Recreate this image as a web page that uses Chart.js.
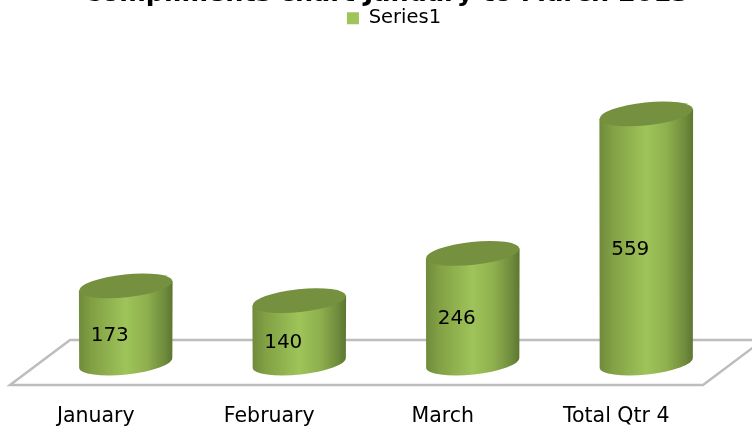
<!DOCTYPE html>
<html><head><meta charset="utf-8">
<style>html,body{margin:0;padding:0;background:#fff}#w{width:752px;height:427px;overflow:hidden}canvas{display:block}</style>
<script src="https://cdn.jsdelivr.net/npm/chart.js@4"></script></head>
<body><div id="w"><canvas id="c" width="752" height="427"></canvas></div>
<script>
const categories = ["January","February","March","Total Qtr 4"];
const seriesValues = [173,140,246,559];
const seriesName = "Series1";
const titleText = "Compliments chart January to March 2013";

const cylinders = {
  id:'cylinders',
  beforeDraw(chart){ chart.legend.left+=8; chart.legend.right+=8; },
  beforeDatasetsDraw(chart){
    const {ctx,chartArea:a,scales:{y}} = chart, b=y.getPixelForValue(0);
    ctx.save();
    ctx.strokeStyle='#bdbdbd';ctx.lineWidth=2.5;ctx.lineJoin='miter';
    ctx.beginPath();
    ctx.moveTo(a.right+30,b-23);ctx.lineTo(a.left+31,b-23);ctx.lineTo(a.left-29,b+22);ctx.lineTo(a.right-30,b+22);ctx.lineTo(a.right+30,b-23);
    ctx.stroke();ctx.restore();
  },
  afterDatasetsDraw(chart){
    const {ctx}=chart, meta=chart.getDatasetMeta(0);
    const tilt=-6*Math.PI/180;
    meta.data.forEach((bar,i)=>{
      const cx=bar.x, top=bar.y, base=bar.base, rx=bar.width/2, ry=11.5;
      const dy=rx*Math.sin(tilt);
      const g=ctx.createLinearGradient(cx-rx,0,cx+rx,0);
      g.addColorStop(0,'#6f8b3c');g.addColorStop(0.14,'#82a044');g.addColorStop(0.5,'#9fc45a');
      g.addColorStop(0.72,'#8fb04e');g.addColorStop(0.92,'#6e8a3c');g.addColorStop(1,'#5d7630');
      ctx.save();
      ctx.fillStyle=g;
      ctx.beginPath();
      ctx.ellipse(cx,base,rx,ry,tilt,0,Math.PI);
      ctx.lineTo(cx-rx,top-dy);
      ctx.lineTo(cx+rx,top+dy);
      ctx.closePath();ctx.fill();
      ctx.fillStyle='#75903f';
      ctx.beginPath();ctx.ellipse(cx,top,rx,ry,tilt,0,Math.PI*2);ctx.fill();
      ctx.fillStyle='#000';ctx.font='20px "DejaVu Sans"';
      ctx.textAlign='center';ctx.textBaseline='middle';
      ctx.fillText(String(seriesValues[i]),cx-16,(top+base)/2+11);
      ctx.restore();
    });
  }
};

new Chart(document.getElementById('c'),{
  type:'bar',
  data:{labels:categories,datasets:[{label:seriesName,data:seriesValues,backgroundColor:'rgba(159,196,90,0)',borderWidth:0,barPercentage:0.54,categoryPercentage:1}]},
  plugins:[cylinders],
  options:{
    responsive:false,animation:false,
    layout:{padding:{left:39,right:19,top:0,bottom:0}},
    scales:{
      x:{grid:{display:false},border:{display:false},afterFit:(s)=>{s.height=64},ticks:{color:'#000',font:{size:20.5,family:'"DejaVu Sans"'},labelOffset:-30,padding:33,maxRotation:0}},
      y:{display:false,min:0,max:729}
    },
    plugins:{
      title:{display:true,text:titleText,color:'#000',font:{size:25.5,weight:'bold',family:'"DejaVu Sans"'},padding:{top:-21,bottom:-7}},
      legend:{display:true,position:'top',align:'center',
        labels:{color:'#000',font:{size:19.5,family:'"DejaVu Sans"'},boxWidth:12,boxHeight:12,padding:6,
          generateLabels:(c)=>[{text:seriesName,fillStyle:'#9fc45a',strokeStyle:'#9fc45a',lineWidth:0,datasetIndex:0}]}},
      tooltip:{enabled:false}
    }
  }
});
</script></body></html>
